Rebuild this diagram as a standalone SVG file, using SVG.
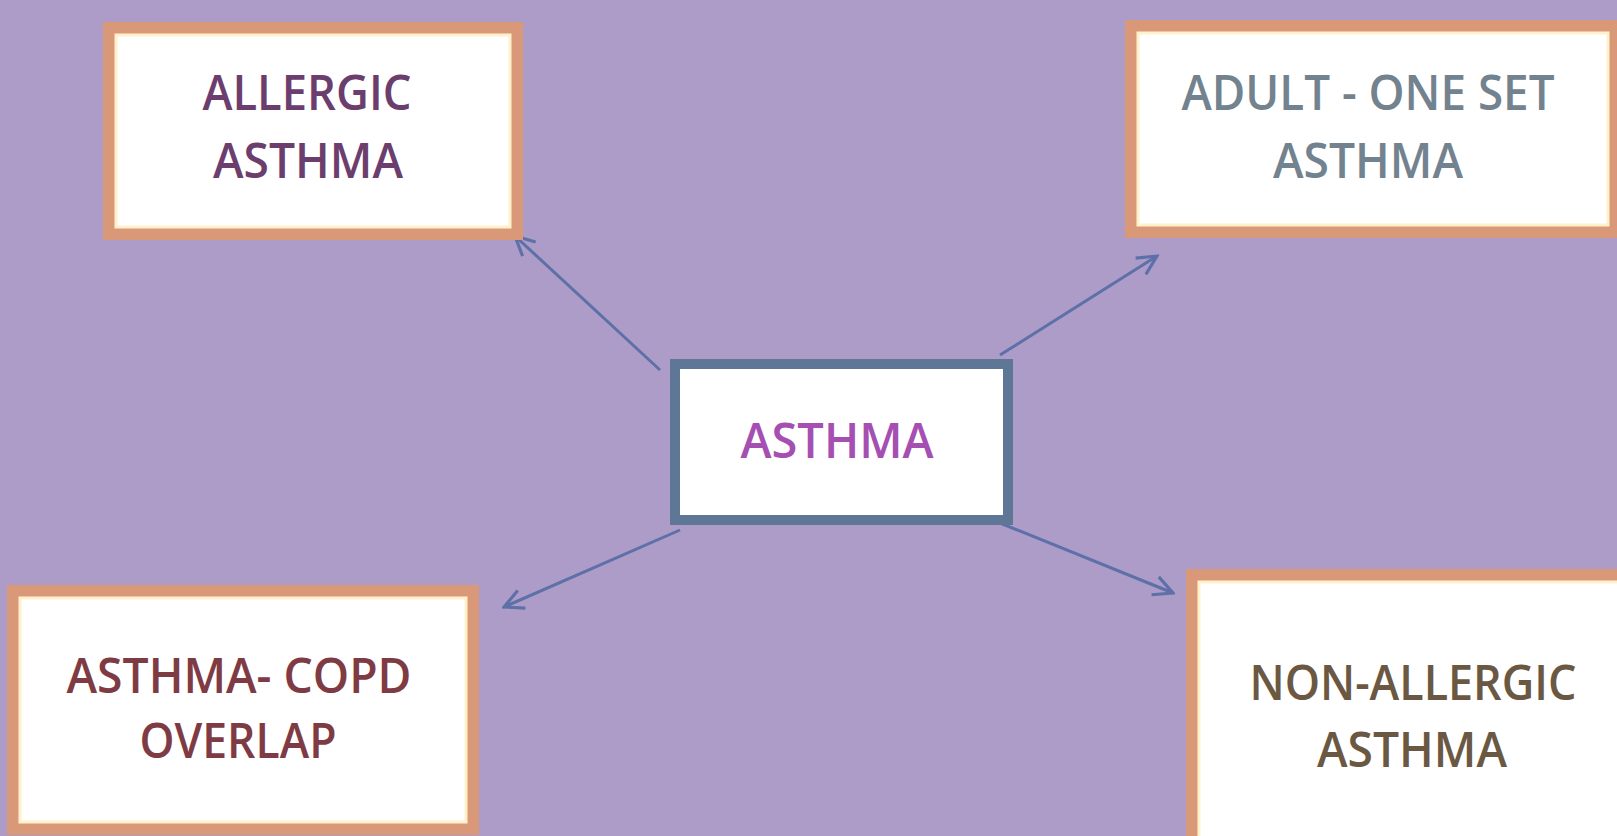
<svg xmlns="http://www.w3.org/2000/svg" width="1617" height="836" viewBox="0 0 1617 836">
  <defs>
    <style>
      .box { fill: #ffffff; stroke: #d99878; stroke-width: 12; }
      .glow { fill: none; stroke: #fff1cc; stroke-width: 3; }
      .center { fill: #ffffff; stroke: #5f7797; stroke-width: 10; }
      .lbl { font-family: "Open Sans", "Liberation Sans", sans-serif; font-size: 48px; font-weight: 600; text-anchor: middle; }
      .conn { stroke: #5d70a8; stroke-width: 3; fill: none; marker-end: url(#arr); }
    </style>
    <marker id="arr" markerUnits="userSpaceOnUse" viewBox="0 0 20 20" refX="18" refY="10" markerWidth="24" markerHeight="24" orient="auto">
      <path d="M2,2 L18,10 L2,18" fill="none" stroke="#5d70a8" stroke-width="2.6"/>
    </marker>
  </defs>
  <rect x="0" y="0" width="1617" height="836" fill="#ae9cc8"/>

  <g id="connectors">
    <line class="conn" x1="660" y1="370" x2="515" y2="236"/>
    <line class="conn" x1="1000" y1="355" x2="1157" y2="256"/>
    <line class="conn" x1="680" y1="530" x2="504" y2="607"/>
    <line class="conn" x1="1000" y1="523" x2="1173" y2="593"/>
  </g>

  <g id="node-allergic">
    <rect class="box" x="109" y="28" width="408" height="206"/>
    <rect class="glow" x="116" y="35" width="394" height="192"/>
    <text class="lbl" fill="#6b3e6e" x="307" y="110" textLength="209" lengthAdjust="spacingAndGlyphs">ALLERGIC</text>
    <text class="lbl" fill="#6b3e6e" x="308" y="178" textLength="190" lengthAdjust="spacingAndGlyphs">ASTHMA</text>
  </g>

  <g id="node-adult">
    <rect class="box" x="1131" y="26" width="482" height="206"/>
    <rect class="glow" x="1138" y="33" width="470" height="192"/>
    <text class="lbl" fill="#72838f" x="1368" y="110" textLength="373" lengthAdjust="spacingAndGlyphs">ADULT - ONE SET</text>
    <text class="lbl" fill="#72838f" x="1368" y="178" textLength="190" lengthAdjust="spacingAndGlyphs">ASTHMA</text>
  </g>

  <g id="node-asthma">
    <rect class="center" x="675" y="364" width="333" height="156"/>
    <text class="lbl" fill="#a64fb2" x="837" y="458" textLength="193" lengthAdjust="spacingAndGlyphs">ASTHMA</text>
  </g>

  <g id="node-copd">
    <rect class="box" x="13" y="591" width="460" height="238"/>
    <rect class="glow" x="20" y="598" width="446" height="224"/>
    <text class="lbl" fill="#7f3b44" x="239" y="693" textLength="345" lengthAdjust="spacingAndGlyphs">ASTHMA- COPD</text>
    <text class="lbl" fill="#7f3b44" x="238" y="758" textLength="197" lengthAdjust="spacingAndGlyphs">OVERLAP</text>
  </g>

  <g id="node-nonallergic">
    <rect class="box" x="1192" y="575" width="440" height="280"/>
    <rect class="glow" x="1199" y="582" width="426" height="266"/>
    <text class="lbl" fill="#6b5843" x="1413" y="700" textLength="327" lengthAdjust="spacingAndGlyphs">NON-ALLERGIC</text>
    <text class="lbl" fill="#6b5843" x="1412" y="767" textLength="190" lengthAdjust="spacingAndGlyphs">ASTHMA</text>
  </g>
</svg>
